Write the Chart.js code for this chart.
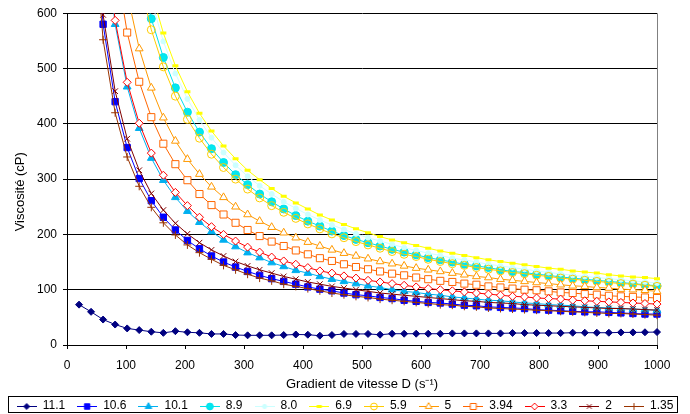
<!DOCTYPE html>
<html>
<head>
<meta charset="utf-8">
<script src="https://cdn.jsdelivr.net/npm/chart.js@4.4.1/dist/chart.umd.min.js"></script>
<style>
  html, body { margin: 0; padding: 0; background: #fff; }
</style>
</head>
<body>
<canvas id="chart" width="690" height="414"></canvas>
<script>
// shear rate D (s-1)
const shearRates = [20.4, 40.8, 61.2, 81.6, 102.0, 122.4, 142.9, 163.3, 183.7, 204.1,
  224.5, 244.9, 265.3, 285.7, 306.1, 326.5, 346.9, 367.3, 387.8, 408.2,
  428.6, 449.0, 469.4, 489.8, 510.2, 530.6, 551.0, 571.4, 591.8, 612.2,
  632.7, 653.1, 673.5, 693.9, 714.3, 734.7, 755.1, 775.5, 795.9, 816.3,
  836.7, 857.1, 877.6, 898.0, 918.4, 938.8, 959.2, 979.6, 1000];

const seriesLabels = ['11.1', '10.6', '10.1', '8.9', '8.0', '6.9', '5.9', '5', '3.94', '3.3', '2', '1.35'];

// viscosity (cP), one array per series
const v11_1 = [73, 60, 46, 37, 30, 27, 24, 22, 25, 23, 22, 20, 20, 18, 17.5, 17.5, 17.5, 18, 19, 18.6,
  16.8, 18, 20, 20, 20, 18.6, 20.4, 20.4, 20.4, 20.4, 20.4, 21, 21, 21, 21, 21, 21.6, 21.6, 21.6, 21.6,
  21.6, 22.2, 22.2, 22.2, 22.2, 22.8, 22.8, 23, 23.4];
const v10_6 = [null, 859, 580, 440, 357, 301, 261, 231, 208, 189, 174, 161, 150, 141, 133, 126, 120, 115, 110, 105,
  101, 98, 94, 91, 89, 86, 84, 81, 79, 77, 76, 74, 72, 71, 69, 68, 67, 66, 64, 63,
  62, 61, 60, 60, 59, 58, 57, 56, 56];
const v10_1 = [null, null, 767, 580, 467, 392, 338, 298, 267, 242, 222, 205, 190, 178, 167, 158, 149, 142, 135, 130,
  124, 119, 115, 111, 107, 104, 100, 97, 95, 92, 90, 87, 85, 83, 81, 80, 78, 76, 75, 73,
  72, 71, 69, 68, 67, 66, 65, 64, 63];
const v8_9 = [null, null, null, null, null, 684, 590, 520, 465, 421, 385, 355, 330, 308, 290, 273, 259, 246, 234, 224,
  215, 206, 198, 191, 185, 179, 173, 168, 163, 158, 154, 150, 146, 143, 140, 136, 133, 131, 128, 126,
  123, 121, 119, 117, 115, 113, 111, 109, 107];
const v8_0 = [null, null, null, null, null, null, 623, 549, 491, 445, 407, 375, 348, 325, 305, 288, 273, 259, 247, 236,
  226, 217, 209, 201, 194, 188, 182, 176, 171, 166, 162, 157, 154, 150, 146, 143, 140, 137, 134, 131,
  129, 126, 124, 122, 120, 118, 116, 114, 112];
const v6_9 = [null, null, null, null, null, null, 640, 564, 505, 458, 419, 387, 360, 337, 316, 299, 283, 269, 257, 246,
  235, 226, 218, 210, 203, 196, 190, 185, 180, 175, 170, 166, 162, 158, 154, 151, 148, 145, 142, 139,
  137, 134, 132, 130, 127, 125, 123, 122, 120];
const v5_9 = [null, null, null, null, null, 661, 570, 503, 450, 408, 374, 345, 321, 300, 282, 266, 252, 240, 229, 219,
  210, 201, 194, 187, 181, 175, 169, 164, 160, 155, 151, 147, 144, 140, 137, 134, 131, 129, 126, 124,
  121, 119, 117, 115, 113, 111, 110, 108, 106];
const v5 = [null, null, null, null, 636, 536, 465, 411, 369, 336, 309, 286, 267, 250, 236, 224, 213, 203, 194, 186,
  179, 172, 166, 161, 156, 151, 147, 143, 139, 136, 133, 130, 127, 124, 122, 119, 117, 115, 113, 111,
  109, 107, 106, 104, 103, 101, 100, 99, 97];
const v3_94 = [null, null, null, 699, 565, 476, 412, 364, 327, 298, 273, 253, 236, 221, 208, 197, 187, 179, 171, 164,
  157, 152, 146, 141, 137, 133, 129, 126, 122, 119, 116, 114, 111, 109, 106, 104, 102, 100, 99, 97,
  95, 94, 92, 91, 89, 88, 87, 86, 85];
const v3_3 = [null, null, 773, 587, 475, 401, 347, 307, 276, 252, 231, 214, 200, 188, 177, 168, 159, 152, 146, 140,
  134, 130, 125, 121, 117, 114, 111, 108, 105, 102, 100, 98, 96, 94, 92, 90, 88, 87, 85, 84,
  83, 81, 80, 79, 78, 77, 76, 75, 74];
const v2 = [null, 890, 597, 459, 373, 316, 274, 244, 220, 201, 185, 172, 161, 151, 143, 136, 130, 124, 119, 114,
  110, 106, 103, 100, 97, 94, 92, 90, 88, 86, 84, 82, 80, 79, 77, 76, 75, 73, 72, 71,
  70, 69, 68, 67, 66, 66, 65, 64, 63];
const v1_35 = [null, 817, 552, 420, 340, 287, 249, 221, 199, 181, 167, 155, 144, 136, 128, 121, 116, 110, 106, 102,
  98, 94, 91, 88, 86, 83, 81, 79, 77, 75, 73, 72, 70, 69, 67, 66, 65, 64, 63, 62,
  61, 60, 59, 58, 57, 57, 56, 55, 54];

const seriesValues = [v11_1, v10_6, v10_1, v8_9, v8_0, v6_9, v5_9, v5, v3_94, v3_3, v2, v1_35];

const xTicks = [0, 100, 200, 300, 400, 500, 600, 700, 800, 900, 1000];
const yTicks = [0, 100, 200, 300, 400, 500, 600];

// marker look per series
const styles = [
  { color: '#000080', point: 'rectRot',  radius: 3.5, fill: '#000080' },
  { color: '#0000FF', point: 'rect',     radius: 4.5, fill: '#0000FF' },
  { color: '#00B0F0', point: 'triangle', radius: 4.5, fill: '#00B0F0' },
  { color: '#00E0EC', point: 'circle',   radius: 4,   fill: '#00E8F0' },
  { color: '#CCFFFF', point: 'circle',   radius: 2.5, fill: '#CCFFFF' },
  { color: '#FFFF00', point: 'line',     radius: 3,   fill: '#FFFF00', bw: 3 },
  { color: '#FFCC00', point: 'circle',   radius: 4,   fill: 'rgba(0,0,0,0)' },
  { color: '#FF9900', point: 'triangle', radius: 4.5, fill: '#FFFFFF' },
  { color: '#FF6600', point: 'rect',     radius: 5,   fill: '#FFFFFF' },
  { color: '#FF0000', point: 'rectRot',  radius: 4,   fill: '#FFFFFF' },
  { color: '#800000', point: 'crossRot', radius: 4,   fill: '#800000' },
  { color: '#993300', point: 'cross',    radius: 4,   fill: '#993300' }
];

Chart.defaults.font.family = "'Liberation Sans', Arial, sans-serif";
Chart.defaults.color = '#000';

// small line + marker icons for the legend
const legendIcons = styles.map(function (s) {
  const c = document.createElement('canvas');
  c.width = 20; c.height = 12;
  const g = c.getContext('2d');
  g.strokeStyle = s.color;
  g.lineWidth = 1;
  g.beginPath(); g.moveTo(0, 6.5); g.lineTo(20, 6.5); g.stroke();
  g.fillStyle = s.fill;
  g.lineWidth = s.bw || 1;
  if (Chart.helpers && Chart.helpers.drawPoint) {
    Chart.helpers.drawPoint(g, { pointStyle: s.point, rotation: 0, radius: s.radius * 0.85, borderWidth: s.bw || 1 }, 10, 6.5);
  }
  return c;
});

const datasets = seriesLabels.map(function (label, i) {
  const s = styles[i];
  return {
    label: label,
    data: shearRates.map(function (x, j) { return { x: x, y: seriesValues[i][j] }; }),
    borderColor: s.color,
    borderWidth: 1,
    pointStyle: s.point,
    pointRadius: s.radius,
    pointBorderColor: s.color,
    pointBackgroundColor: s.fill,
    pointBorderWidth: s.bw || 1,
    tension: 0,
    spanGaps: false,
    order: seriesLabels.length - i,
    clip: { left: 6, right: 10, top: 0, bottom: 6 }
  };
});

const legendBox = {
  id: 'legendBox',
  beforeInit(chart) {
    const origFit = chart.legend.fit;
    chart.legend.fit = function () {
      origFit.call(this);
      this.height = 26;
    };
  },
  afterDraw(chart) {
    const boxes = chart.legend.legendHitBoxes;
    if (!boxes || !boxes.length) return;
    const first = boxes[0], last = boxes[boxes.length - 1];
    const left = Math.round(first.left) - 8.5;
    const right = Math.round(last.left + last.width) + 4.5;
    const ctx = chart.ctx;
    ctx.save();
    ctx.strokeStyle = '#000';
    ctx.lineWidth = 1;
    ctx.strokeRect(left, 396.5, right - left, 16);
    ctx.restore();
  }
};

new Chart(document.getElementById('chart'), {
  type: 'line',
  data: { datasets: datasets },
  options: {
    responsive: false,
    animation: false,
    layout: { padding: { top: 13, left: 0, right: 0, bottom: 0 } },
    scales: {
      x: {
        type: 'linear',
        min: xTicks[0],
        max: xTicks[xTicks.length - 1],
        afterBuildTicks: function (s) { s.ticks = xTicks.map(function (v) { return { value: v }; }); },
        afterFit: function (s) { s.height = 43; },
        ticks: {
          padding: 9,
          maxRotation: 0,
          font: { size: 12 },
          color: '#000',
          callback: function (v) { return String(v); }
        },
        grid: {
          color: function (c) { return c.tick && c.tick.value === 1000 ? '#808080' : 'rgba(0,0,0,0)'; },
          tickColor: '#000',
          tickLength: 4
        },
        border: { color: '#000', width: 1 },
        title: {
          display: true,
          text: 'Gradient de vitesse D (s\u207B\u00B9)',
          font: { size: 13 },
          color: '#000',
          padding: { top: 0, bottom: -4 }
        }
      },
      y: {
        min: yTicks[0],
        max: yTicks[yTicks.length - 1],
        afterBuildTicks: function (s) { s.ticks = yTicks.map(function (v) { return { value: v }; }); },
        afterFit: function (s) { s.width = 67; },
        ticks: { padding: 6, font: { size: 12 }, color: '#000' },
        grid: { color: '#000', tickColor: '#000', tickLength: 4, lineWidth: 1 },
        border: { color: '#000', width: 1 },
        title: {
          display: true,
          text: 'Viscosité (cP)       ',
          font: { size: 13 },
          color: '#000',
          padding: { top: 13, bottom: 0 }
        }
      },
      y2: {
        position: 'right',
        grid: { display: false, drawTicks: false },
        border: { display: false },
        ticks: { display: false },
        afterFit: function (s) { s.width = 33; }
      }
    },
    plugins: {
      tooltip: { enabled: false },
      legend: {
        position: 'bottom',
        labels: {
          usePointStyle: true,
          pointStyleWidth: 20,
          boxHeight: 12,
          padding: 12,
          font: { size: 12 },
          color: '#000',
          sort: function (a, b) { return a.datasetIndex - b.datasetIndex; },
          generateLabels: function (chart) {
            const items = Chart.defaults.plugins.legend.labels.generateLabels(chart);
            items.forEach(function (it) { it.pointStyle = legendIcons[it.datasetIndex]; });
            return items;
          }
        }
      }
    }
  },
  plugins: [legendBox]
});
</script>
</body>
</html>
